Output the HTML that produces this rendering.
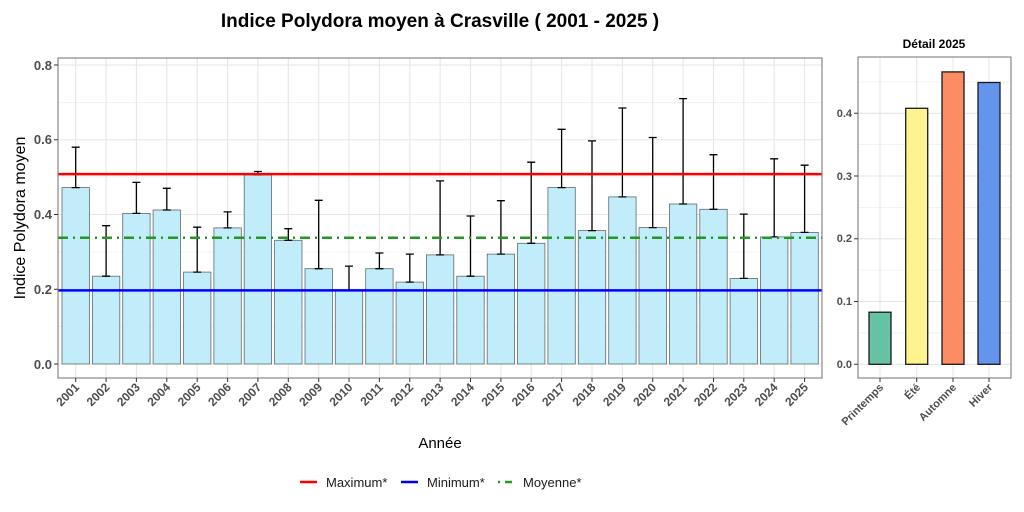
<!DOCTYPE html>
<html><head><meta charset="utf-8"><style>body{margin:0;background:#fff}svg{display:block;font-family:"Liberation Sans",sans-serif}</style></head><body>
<svg width="1024" height="512" viewBox="0 0 1024 512" xmlns="http://www.w3.org/2000/svg">
<rect width="1024" height="512" fill="#fff"/>
<text x="440" y="27" text-anchor="middle" font-size="19" font-weight="bold" fill="#000">Indice Polydora moyen à Crasville ( 2001 - 2025 )</text>
<g stroke="#ebebeb" stroke-width="0.6">
<line x1="58" x2="822" y1="326.6" y2="326.6"/><line x1="58" x2="822" y1="251.9" y2="251.9"/><line x1="58" x2="822" y1="177.1" y2="177.1"/><line x1="58" x2="822" y1="102.4" y2="102.4"/>
</g>
<g stroke="#e6e6e6" stroke-width="1.1">
<line x1="58" x2="822" y1="364" y2="364"/><line x1="58" x2="822" y1="289.25" y2="289.25"/><line x1="58" x2="822" y1="214.5" y2="214.5"/><line x1="58" x2="822" y1="139.75" y2="139.75"/><line x1="58" x2="822" y1="65" y2="65"/>
<line x1="75.7" x2="75.7" y1="58" y2="378"/><line x1="106.1" x2="106.1" y1="58" y2="378"/><line x1="136.4" x2="136.4" y1="58" y2="378"/><line x1="166.8" x2="166.8" y1="58" y2="378"/><line x1="197.2" x2="197.2" y1="58" y2="378"/><line x1="227.6" x2="227.6" y1="58" y2="378"/><line x1="257.9" x2="257.9" y1="58" y2="378"/><line x1="288.3" x2="288.3" y1="58" y2="378"/><line x1="318.7" x2="318.7" y1="58" y2="378"/><line x1="349" x2="349" y1="58" y2="378"/><line x1="379.4" x2="379.4" y1="58" y2="378"/><line x1="409.8" x2="409.8" y1="58" y2="378"/><line x1="440.1" x2="440.1" y1="58" y2="378"/><line x1="470.5" x2="470.5" y1="58" y2="378"/><line x1="500.9" x2="500.9" y1="58" y2="378"/><line x1="531.2" x2="531.2" y1="58" y2="378"/><line x1="561.6" x2="561.6" y1="58" y2="378"/><line x1="592" x2="592" y1="58" y2="378"/><line x1="622.4" x2="622.4" y1="58" y2="378"/><line x1="652.7" x2="652.7" y1="58" y2="378"/><line x1="683.1" x2="683.1" y1="58" y2="378"/><line x1="713.5" x2="713.5" y1="58" y2="378"/><line x1="743.8" x2="743.8" y1="58" y2="378"/><line x1="774.2" x2="774.2" y1="58" y2="378"/><line x1="804.6" x2="804.6" y1="58" y2="378"/>
</g>
<g fill="#c1ecfa" stroke="#5f6b70" stroke-width="0.8">
<rect x="62" y="187.6" width="27.4" height="176.4"/>
<rect x="92.4" y="276.2" width="27.4" height="87.8"/>
<rect x="122.7" y="213.4" width="27.4" height="150.6"/>
<rect x="153.1" y="210" width="27.4" height="154"/>
<rect x="183.5" y="272.1" width="27.4" height="91.9"/>
<rect x="213.9" y="227.9" width="27.4" height="136.1"/>
<rect x="244.2" y="174.9" width="27.4" height="189.1"/>
<rect x="274.6" y="240.3" width="27.4" height="123.7"/>
<rect x="305" y="268.7" width="27.4" height="95.3"/>
<rect x="335.3" y="290.4" width="27.4" height="73.6"/>
<rect x="365.7" y="268.7" width="27.4" height="95.3"/>
<rect x="396.1" y="282.1" width="27.4" height="81.9"/>
<rect x="426.4" y="254.9" width="27.4" height="109.1"/>
<rect x="456.8" y="276.2" width="27.4" height="87.8"/>
<rect x="487.2" y="254.1" width="27.4" height="109.9"/>
<rect x="517.5" y="243.3" width="27.4" height="120.7"/>
<rect x="547.9" y="187.6" width="27.4" height="176.4"/>
<rect x="578.3" y="230.6" width="27.4" height="133.4"/>
<rect x="608.7" y="196.9" width="27.4" height="167.1"/>
<rect x="639" y="227.6" width="27.4" height="136.4"/>
<rect x="669.4" y="204" width="27.4" height="160"/>
<rect x="699.8" y="209.3" width="27.4" height="154.7"/>
<rect x="730.1" y="278.4" width="27.4" height="85.6"/>
<rect x="760.5" y="236.9" width="27.4" height="127.1"/>
<rect x="790.9" y="232.4" width="27.4" height="131.6"/>
</g>
<g stroke="#000" stroke-width="1.3" fill="none">
<path d="M75.7 187.6V147.2M71.7 147.2h8M71.7 187.6h8"/>
<path d="M106.1 276.2V225.7M102.1 225.7h8M102.1 276.2h8"/>
<path d="M136.4 213.4V182.4M132.4 182.4h8M132.4 213.4h8"/>
<path d="M166.8 210V188.3M162.8 188.3h8M162.8 210h8"/>
<path d="M197.2 272.1V227.2M193.2 227.2h8M193.2 272.1h8"/>
<path d="M227.6 227.9V211.9M223.6 211.9h8M223.6 227.9h8"/>
<path d="M257.9 174.9V171.5M253.9 171.5h8M253.9 174.9h8"/>
<path d="M288.3 240.3V228.7M284.3 228.7h8M284.3 240.3h8"/>
<path d="M318.7 268.7V200.3M314.7 200.3h8M314.7 268.7h8"/>
<path d="M349 290.4V266.1M345 266.1h8M345 290.4h8"/>
<path d="M379.4 268.7V253M375.4 253h8M375.4 268.7h8"/>
<path d="M409.8 282.1V254.1M405.8 254.1h8M405.8 282.1h8"/>
<path d="M440.1 254.9V180.9M436.1 180.9h8M436.1 254.9h8"/>
<path d="M470.5 276.2V216M466.5 216h8M466.5 276.2h8"/>
<path d="M500.9 254.1V200.7M496.9 200.7h8M496.9 254.1h8"/>
<path d="M531.2 243.3V162.2M527.2 162.2h8M527.2 243.3h8"/>
<path d="M561.6 187.6V129.3M557.6 129.3h8M557.6 187.6h8"/>
<path d="M592 230.6V140.9M588 140.9h8M588 230.6h8"/>
<path d="M622.4 196.9V108M618.4 108h8M618.4 196.9h8"/>
<path d="M652.7 227.6V137.5M648.7 137.5h8M648.7 227.6h8"/>
<path d="M683.1 204V98.6M679.1 98.6h8M679.1 204h8"/>
<path d="M713.5 209.3V154.7M709.5 154.7h8M709.5 209.3h8"/>
<path d="M743.8 278.4V214.1M739.8 214.1h8M739.8 278.4h8"/>
<path d="M774.2 236.9V158.8M770.2 158.8h8M770.2 236.9h8"/>
<path d="M804.6 232.4V165.2M800.6 165.2h8M800.6 232.4h8"/>
</g>
<line x1="58" x2="822" y1="174.1" y2="174.1" stroke="#ff0000" stroke-width="2.5"/>
<line x1="58" x2="822" y1="290.4" y2="290.4" stroke="#0000ff" stroke-width="2.5"/>
<line x1="58" x2="822" y1="237.7" y2="237.7" stroke="#229922" stroke-width="2.5" stroke-dasharray="10,5,2,5"/>
<rect x="58" y="58" width="764" height="320" fill="none" stroke="#7f7f7f" stroke-width="1.1"/>
<g stroke="#333" stroke-width="1"><line x1="54" x2="58" y1="364" y2="364"/><line x1="54" x2="58" y1="289.25" y2="289.25"/><line x1="54" x2="58" y1="214.5" y2="214.5"/><line x1="54" x2="58" y1="139.75" y2="139.75"/><line x1="54" x2="58" y1="65" y2="65"/></g>
<g font-size="13" font-weight="bold" fill="#4d4d4d" text-anchor="end">
<text x="52" y="369">0.0</text><text x="52" y="294">0.2</text><text x="52" y="219">0.4</text><text x="52" y="144">0.6</text><text x="52" y="70">0.8</text>
</g>
<text transform="translate(25,218) rotate(-90)" text-anchor="middle" font-size="16" fill="#000">Indice Polydora moyen</text>
<g stroke="#333" stroke-width="1">
<path d="M75.7 378v4M106.1 378v4M136.4 378v4M166.8 378v4M197.2 378v4M227.6 378v4M257.9 378v4M288.3 378v4M318.7 378v4M349 378v4M379.4 378v4M409.8 378v4M440.1 378v4M470.5 378v4M500.9 378v4M531.2 378v4M561.6 378v4M592 378v4M622.4 378v4M652.7 378v4M683.1 378v4M713.5 378v4M743.8 378v4M774.2 378v4M804.6 378v4"/>
</g>
<g font-size="12" font-weight="bold" fill="#4d4d4d" text-anchor="end">
<text transform="translate(80,388) rotate(-45)">2001</text>
<text transform="translate(110.4,388) rotate(-45)">2002</text>
<text transform="translate(140.7,388) rotate(-45)">2003</text>
<text transform="translate(171.1,388) rotate(-45)">2004</text>
<text transform="translate(201.5,388) rotate(-45)">2005</text>
<text transform="translate(231.9,388) rotate(-45)">2006</text>
<text transform="translate(262.2,388) rotate(-45)">2007</text>
<text transform="translate(292.6,388) rotate(-45)">2008</text>
<text transform="translate(323,388) rotate(-45)">2009</text>
<text transform="translate(353.3,388) rotate(-45)">2010</text>
<text transform="translate(383.7,388) rotate(-45)">2011</text>
<text transform="translate(414.1,388) rotate(-45)">2012</text>
<text transform="translate(444.4,388) rotate(-45)">2013</text>
<text transform="translate(474.8,388) rotate(-45)">2014</text>
<text transform="translate(505.2,388) rotate(-45)">2015</text>
<text transform="translate(535.5,388) rotate(-45)">2016</text>
<text transform="translate(565.9,388) rotate(-45)">2017</text>
<text transform="translate(596.3,388) rotate(-45)">2018</text>
<text transform="translate(626.7,388) rotate(-45)">2019</text>
<text transform="translate(657,388) rotate(-45)">2020</text>
<text transform="translate(687.4,388) rotate(-45)">2021</text>
<text transform="translate(717.8,388) rotate(-45)">2022</text>
<text transform="translate(748.1,388) rotate(-45)">2023</text>
<text transform="translate(778.5,388) rotate(-45)">2024</text>
<text transform="translate(808.9,388) rotate(-45)">2025</text>
</g>
<text x="440" y="448" text-anchor="middle" font-size="15" fill="#000">Année</text>
<line x1="300" x2="317" y1="482" y2="482" stroke="#ff0000" stroke-width="2.5"/>
<text x="326" y="487" font-size="13" fill="#1a1a1a">Maximum*</text>
<line x1="401" x2="418" y1="482" y2="482" stroke="#0000ff" stroke-width="2.5"/>
<text x="427" y="487" font-size="13" fill="#1a1a1a">Minimum*</text>
<line x1="498" x2="515" y1="482" y2="482" stroke="#229922" stroke-width="2.5" stroke-dasharray="2,5,7,5"/>
<text x="523" y="487" font-size="13" fill="#1a1a1a">Moyenne*</text>
<text x="934" y="48" text-anchor="middle" font-size="12" font-weight="bold" fill="#000">Détail 2025</text>
<g stroke="#ebebeb" stroke-width="0.6"><line x1="858" x2="1011" y1="332.9" y2="332.9"/><line x1="858" x2="1011" y1="270.1" y2="270.1"/><line x1="858" x2="1011" y1="207.4" y2="207.4"/><line x1="858" x2="1011" y1="144.6" y2="144.6"/><line x1="858" x2="1011" y1="81.9" y2="81.9"/></g>
<g stroke="#e6e6e6" stroke-width="1.1"><line x1="858" x2="1011" y1="364.3" y2="364.3"/><line x1="858" x2="1011" y1="301.5" y2="301.5"/><line x1="858" x2="1011" y1="238.8" y2="238.8"/><line x1="858" x2="1011" y1="176" y2="176"/><line x1="858" x2="1011" y1="113.3" y2="113.3"/>
<line x1="880" x2="880" y1="57" y2="378"/><line x1="916.7" x2="916.7" y1="57" y2="378"/><line x1="953" x2="953" y1="57" y2="378"/><line x1="989" x2="989" y1="57" y2="378"/></g>
<g stroke="#1a1a1a" stroke-width="1.3">
<rect x="869" y="312.2" width="22" height="52.1" fill="#66c2a5"/>
<rect x="905.7" y="108.3" width="22" height="256" fill="#fff38f"/>
<rect x="942" y="71.9" width="22" height="292.4" fill="#fc8d62"/>
<rect x="978" y="82.5" width="22" height="281.8" fill="#6495ed"/>
</g>
<rect x="858" y="57" width="153" height="321" fill="none" stroke="#7f7f7f" stroke-width="1.1"/>
<g stroke="#333"><path d="M854 364.3h4M854 301.5h4M854 238.8h4M854 176h4M854 113.3h4M880 378v4M916.7 378v4M953 378v4M989 378v4"/></g>
<g font-size="11" font-weight="bold" fill="#4d4d4d" text-anchor="end">
<text x="852" y="368">0.0</text><text x="852" y="305">0.1</text><text x="852" y="242">0.2</text><text x="852" y="180">0.3</text><text x="852" y="117">0.4</text>
</g>
<g font-size="11" font-weight="bold" fill="#4d4d4d" text-anchor="end">
<text transform="translate(884,388) rotate(-45)">Printemps</text>
<text transform="translate(921,388) rotate(-45)">Été</text>
<text transform="translate(957,388) rotate(-45)">Automne</text>
<text transform="translate(993,388) rotate(-45)">Hiver</text>
</g>
</svg>
</body></html>
